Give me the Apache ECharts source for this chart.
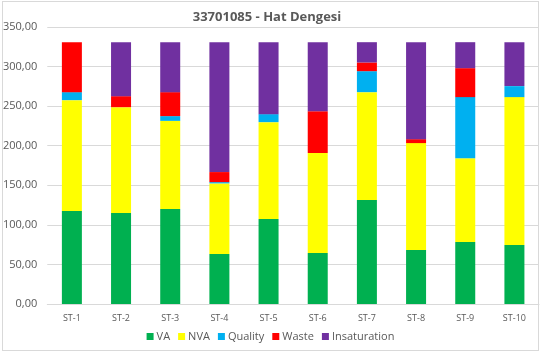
<!DOCTYPE html>
<html>
<head>
<meta charset="utf-8">
<script src="https://cdn.jsdelivr.net/npm/echarts@6/dist/echarts.min.js"></script>
<style>
html,body{margin:0;padding:0;background:#fff;}
#frame{position:absolute;left:2px;top:1px;width:537px;height:350px;border:1px solid #d9d9d9;box-sizing:border-box;}
#c{position:absolute;left:0;top:0;width:541px;height:355px;}
</style>
</head>
<body>
<div id="frame"></div>
<div id="c"></div>
<script>
const categories = ['ST-1','ST-2','ST-3','ST-4','ST-5','ST-6','ST-7','ST-8','ST-9','ST-10'];
const VA          = [117.4, 114.9, 120.0, 63.1, 107.3, 64.4, 131.3, 68.2, 78.3, 74.5];
const NVA         = [140.2, 133.8, 111.4, 89.3, 122.5, 126.3, 136.4, 135.1, 106.0, 186.9];
const Quality     = [10.1, 0, 6.0, 1.6, 10.1, 0, 26.5, 0, 77.1, 13.9];
const Waste       = [63.1, 13.9, 30.3, 12.7, 0, 53.0, 11.0, 5.0, 36.6, 0];
const Insaturation= [0, 68.2, 63.1, 164.1, 90.9, 87.1, 25.6, 122.5, 32.8, 55.5];
const yTicks = [0, 50, 100, 150, 200, 250, 300, 350];

const fnt = 'Open Sans, Noto Sans, sans-serif';
const chart = echarts.init(document.getElementById('c'));
const mk = (name, data, color) => ({
  name, type: 'bar', stack: 'total', data, barWidth: 20,
  itemStyle: { color }
});
chart.setOption({
  animation: false,
  title: {
    text: '33701085 - Hat Dengesi', left: 262, top: 6, textAlign: 'center',
    textStyle: { fontFamily: fnt, fontSize: 13, fontWeight: 'bold', color: '#595959' }
  },
  grid: { left: 46, right: 2, top: 27, bottom: 51 },
  legend: {
    bottom: 8, left: 'center', itemWidth: 7, itemHeight: 7, itemGap: 8,
    icon: 'rect',
    textStyle: { fontFamily: fnt, fontSize: 11, color: '#595959', padding: [0,0,0,-2] },
    data: ['VA','NVA','Quality','Waste','Insaturation']
  },
  xAxis: {
    type: 'category', data: categories,
    axisLine: { lineStyle: { color: '#d9d9d9' } },
    axisTick: { show: false },
    axisLabel: { fontFamily: fnt, fontSize: 9, color: '#595959', margin: 10 }
  },
  yAxis: {
    type: 'value', min: yTicks[0], max: yTicks[yTicks.length-1], interval: 50,
    axisLine: { show: false }, axisTick: { show: false },
    splitLine: { lineStyle: { color: '#d9d9d9' } },
    axisLabel: {
      fontFamily: fnt, fontSize: 11, color: '#595959', margin: 10,
      formatter: v => v.toFixed(2).replace('.', ',')
    }
  },
  series: [
    mk('VA', VA, '#00B050'),
    mk('NVA', NVA, '#FFFF00'),
    mk('Quality', Quality, '#00B0F0'),
    mk('Waste', Waste, '#FF0000'),
    mk('Insaturation', Insaturation, '#7030A0')
  ]
});
</script>
</body>
</html>
